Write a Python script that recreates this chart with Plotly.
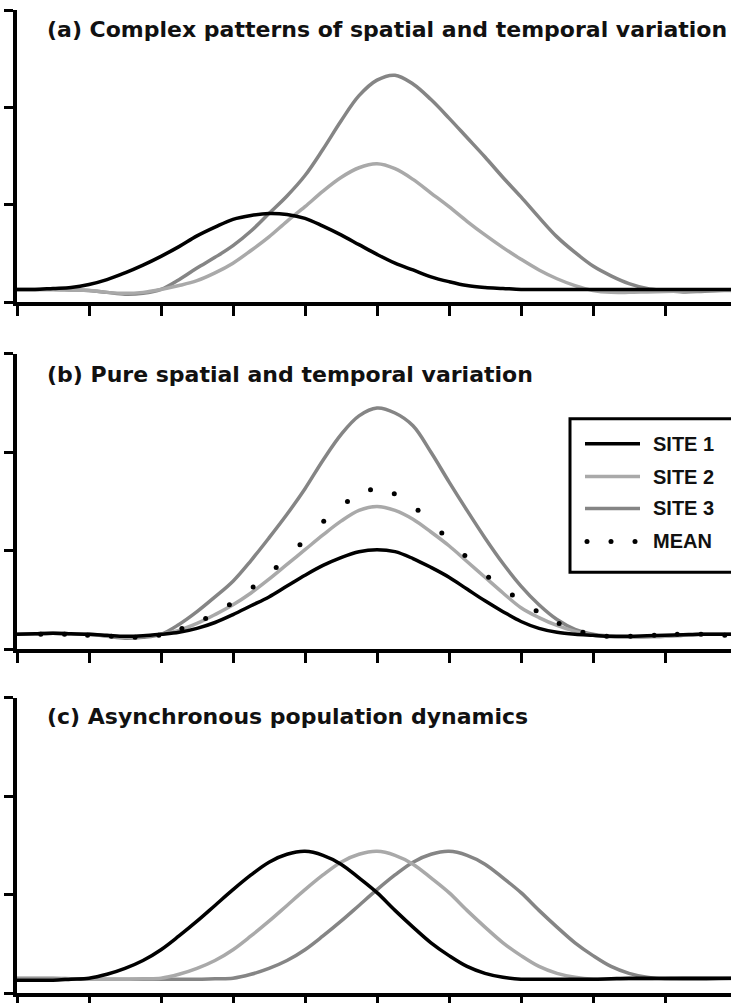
import plotly.graph_objects as go

# ---------------- data ----------------
x_grid = [0, 0.25, 0.5, 0.75, 1, 1.25, 1.5, 1.75, 2, 2.25, 2.5, 2.75, 3, 3.25, 3.5, 3.75,
          4, 4.25, 4.5, 4.75, 5, 5.25, 5.5, 5.75, 6, 6.25, 6.5, 6.75, 7, 7.25, 7.5, 7.75,
          8, 8.25, 8.5, 8.75, 9, 9.25, 9.5, 9.75, 10]

# (a) Complex patterns
a_site1 = [0.13, 0.13, 0.14, 0.15, 0.18, 0.23, 0.30, 0.38, 0.47, 0.57, 0.68, 0.77, 0.85, 0.89, 0.91, 0.90,
           0.86, 0.78, 0.69, 0.59, 0.49, 0.40, 0.33, 0.26, 0.21, 0.17, 0.15, 0.14, 0.13, 0.13, 0.13, 0.13,
           0.13, 0.13, 0.13, 0.13, 0.13, 0.13, 0.13, 0.13, 0.13]
a_site2 = [0.13, 0.13, 0.13, 0.125, 0.12, 0.10, 0.09, 0.10, 0.13, 0.17, 0.22, 0.30, 0.40, 0.53, 0.67, 0.83,
           0.98, 1.14, 1.28, 1.38, 1.42, 1.37, 1.26, 1.12, 0.98, 0.83, 0.69, 0.56, 0.44, 0.33, 0.24, 0.17,
           0.12, 0.10, 0.10, 0.105, 0.11, 0.115, 0.12, 0.12, 0.12]
a_site3 = [0.13, 0.13, 0.13, 0.125, 0.12, 0.10, 0.08, 0.09, 0.13, 0.23, 0.35, 0.46, 0.58, 0.73, 0.91, 1.09,
           1.30, 1.57, 1.86, 2.12, 2.28, 2.33, 2.24, 2.08, 1.89, 1.69, 1.49, 1.28, 1.08, 0.87, 0.67, 0.51,
           0.37, 0.27, 0.19, 0.14, 0.12, 0.105, 0.11, 0.12, 0.125]

# (b) Pure spatial and temporal variation
b_site1 = [0.15, 0.155, 0.16, 0.155, 0.15, 0.14, 0.13, 0.135, 0.15, 0.17, 0.21, 0.27, 0.35, 0.44, 0.53, 0.64,
           0.75, 0.85, 0.93, 0.99, 1.01, 0.99, 0.92, 0.83, 0.73, 0.61, 0.49, 0.38, 0.28, 0.21, 0.17, 0.15,
           0.14, 0.13, 0.13, 0.135, 0.14, 0.145, 0.15, 0.15, 0.15]
b_site2 = [0.15, 0.155, 0.16, 0.155, 0.15, 0.135, 0.12, 0.13, 0.15, 0.19, 0.26, 0.35, 0.45, 0.57, 0.71, 0.86,
           1.01, 1.16, 1.30, 1.41, 1.45, 1.41, 1.32, 1.19, 1.05, 0.89, 0.73, 0.57, 0.42, 0.32, 0.24, 0.18,
           0.14, 0.125, 0.12, 0.125, 0.13, 0.14, 0.15, 0.15, 0.15]
b_site3 = [0.15, 0.155, 0.16, 0.155, 0.15, 0.13, 0.11, 0.12, 0.15, 0.25, 0.38, 0.53, 0.69, 0.90, 1.13, 1.37,
           1.63, 1.92, 2.18, 2.37, 2.45, 2.40, 2.27, 2.00, 1.70, 1.41, 1.13, 0.87, 0.64, 0.45, 0.30, 0.20,
           0.15, 0.13, 0.12, 0.125, 0.13, 0.14, 0.15, 0.15, 0.15]
mean_x = [0.33, 0.66, 0.98, 1.31, 1.64, 1.97, 2.29, 2.62, 2.95, 3.28, 3.60, 3.93, 4.26, 4.59, 4.91,
          5.24, 5.57, 5.90, 6.22, 6.55, 6.88, 7.21, 7.53, 7.86, 8.19, 8.52, 8.85, 9.17, 9.50, 9.83]
b_mean = [0.15, 0.15, 0.14, 0.13, 0.12, 0.14, 0.21, 0.31, 0.45, 0.63, 0.83, 1.06, 1.30, 1.50, 1.62,
          1.58, 1.41, 1.18, 0.95, 0.73, 0.55, 0.39, 0.26, 0.17, 0.13, 0.13, 0.14, 0.15, 0.15, 0.14]

# (c) Asynchronous population dynamics
c_site1 = [0.13, 0.13, 0.13, 0.14, 0.15, 0.19, 0.25, 0.33, 0.44, 0.58, 0.73, 0.89, 1.05, 1.20, 1.33, 1.41,
           1.44, 1.40, 1.31, 1.17, 1.02, 0.84, 0.67, 0.51, 0.38, 0.27, 0.20, 0.16, 0.14, 0.14, 0.14, 0.14,
           0.14, 0.145, 0.15, 0.15, 0.15, 0.15, 0.15, 0.15, 0.15]
c_site2 = [0.14, 0.14, 0.14, 0.14, 0.14, 0.14, 0.14, 0.145, 0.15, 0.19, 0.25, 0.33, 0.44, 0.58, 0.73, 0.89,
           1.05, 1.20, 1.33, 1.41, 1.44, 1.40, 1.31, 1.17, 1.02, 0.84, 0.67, 0.51, 0.38, 0.27, 0.20, 0.16,
           0.14, 0.14, 0.14, 0.14, 0.145, 0.15, 0.15, 0.15, 0.15]
c_site3 = [0.15, 0.15, 0.15, 0.145, 0.14, 0.14, 0.14, 0.14, 0.14, 0.14, 0.14, 0.145, 0.15, 0.19, 0.25, 0.33,
           0.44, 0.58, 0.73, 0.89, 1.05, 1.20, 1.33, 1.41, 1.44, 1.40, 1.31, 1.17, 1.02, 0.84, 0.67, 0.51,
           0.38, 0.27, 0.20, 0.16, 0.14, 0.14, 0.14, 0.145, 0.15]

titles = ["(a) Complex patterns of spatial and temporal variation",
          "(b) Pure spatial and temporal variation",
          "(c) Asynchronous population dynamics"]
legend_labels = ["SITE 1", "SITE 2", "SITE 3", "MEAN"]
y_ticks = [0, 1, 2, 3]
x_ticks = [0, 1, 2, 3, 4, 5, 6, 7, 8, 9]

for arr in (a_site1, a_site2, a_site3, b_site1, b_site2, b_site3, c_site1, c_site2, c_site3):
    assert len(arr) == len(x_grid), len(arr)
assert len(mean_x) == len(b_mean)

# ---------------- styling ----------------
C1, C2, C3 = "#000000", "#a9a9a9", "#858585"
LW = 3.5
W, H = 731, 1003
ML, MR, MT, MB = 17, 0, 10, 7
PW, PH = W - ML - MR, H - MT - MB

def px2x(px):
    return (px - ML) / PW

def py2y(py):
    return 1 - (py - MT) / PH

panels = [
    (a_site1, a_site2, a_site3, (10, 303)),
    (b_site1, b_site2, b_site3, (355, 651)),
    (c_site1, c_site2, c_site3, (700, 996)),
]

fig = go.Figure()
x_max = (W - ML) / 72.0

for i, (s1, s2, s3, (ytop, ybot)) in enumerate(panels):
    n = "" if i == 0 else str(i + 1)
    xa, ya = "x" + n, "y" + n
    for ys, col in ((s3, C3), (s2, C2), (s1, C1)):
        fig.add_trace(go.Scatter(x=x_grid, y=ys, mode="lines", xaxis=xa, yaxis=ya,
                                 line=dict(color=col, width=LW, shape="spline", smoothing=1.0),
                                 showlegend=False, hoverinfo="skip"))
    if i == 1:
        fig.add_trace(go.Scatter(x=mean_x, y=b_mean, mode="markers", xaxis=xa, yaxis=ya,
                                 marker=dict(color="black", size=5),
                                 showlegend=False, hoverinfo="skip"))
    axis_common = dict(showline=True, linewidth=3.5, linecolor="black", ticks="outside",
                       tickwidth=3, tickcolor="black", showticklabels=False,
                       showgrid=False, zeroline=False, fixedrange=True)
    fig.layout["xaxis" + n] = dict(range=[0, x_max], tickvals=x_ticks, ticklen=10,
                                   anchor=ya, domain=[0, 1], **axis_common)
    fig.layout["yaxis" + n] = dict(range=[0, 3], tickvals=y_ticks, ticklen=9,
                                   anchor=xa, domain=[py2y(ybot), py2y(ytop)], **axis_common)

# panel titles
title_y = [30, 376, 719]
annotations = []
for t, ty in zip(titles, title_y):
    annotations.append(dict(text="<b>" + t + "</b>", xref="paper", yref="paper",
                            x=px2x(45), y=py2y(ty), xanchor="left", yanchor="middle",
                            showarrow=False,
                            font=dict(family="DejaVu Sans", size=22, color="#111111")))

# legend (panel b)
shapes = [dict(type="rect", xref="paper", yref="paper",
               x0=px2x(570), x1=px2x(745), y0=py2y(574), y1=py2y(420),
               line=dict(color="black", width=3), fillcolor="white", layer="above")]
leg_y = [445, 478, 510, 543]
for lab, ly, col in zip(legend_labels, leg_y, [C1, C2, C3, None]):
    if col is not None:
        shapes.append(dict(type="line", xref="paper", yref="paper",
                           x0=px2x(585), x1=px2x(640), y0=py2y(ly), y1=py2y(ly),
                           line=dict(color=col, width=LW), layer="above"))
    else:
        for dx in (587, 611, 635):
            shapes.append(dict(type="circle", xref="paper", yref="paper",
                               xsizemode="pixel", ysizemode="pixel",
                               xanchor=px2x(dx), yanchor=py2y(ly),
                               x0=-2.5, x1=2.5, y0=-2.5, y1=2.5,
                               fillcolor="black", line=dict(width=0), layer="above"))
    annotations.append(dict(text="<b>" + lab + "</b>", xref="paper", yref="paper",
                            x=px2x(651), y=py2y(ly), xanchor="left", yanchor="middle",
                            showarrow=False,
                            font=dict(family="Liberation Sans", size=20, color="#111111")))

fig.update_layout(width=W, height=H, margin=dict(l=ML, r=MR, t=MT, b=MB),
                  paper_bgcolor="white", plot_bgcolor="white",
                  shapes=shapes, annotations=annotations, showlegend=False)

fig.write_html("out.html", config={"displayModeBar": False})
